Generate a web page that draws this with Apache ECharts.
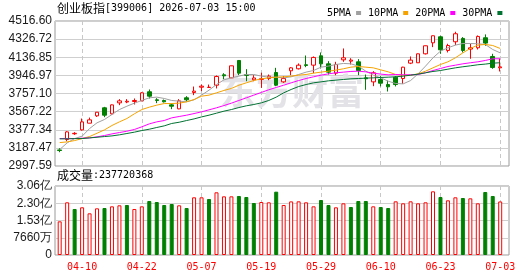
<!DOCTYPE html>
<html>
<head>
<meta charset="utf-8">
<script src="https://cdn.jsdelivr.net/npm/echarts@6/dist/echarts.min.js"></script>
<style>
    html, body {margin: 0; padding: 0; background: #fff;}
    #main {width: 530px; height: 276px;}
</style>
</head>
<body>
<div id="main"></div>
<script>
var dates = ['04-07','04-08','04-09','04-10','04-13','04-14','04-15','04-16','04-17','04-20',
    '04-21','04-22','04-23','04-24','04-27','04-28','04-29','04-30','05-06','05-07',
    '05-08','05-11','05-12','05-13','05-14','05-15','05-18','05-19','05-20','05-21',
    '05-22','05-25','05-26','05-27','05-28','05-29','06-01','06-02','06-03','06-04',
    '06-05','06-08','06-09','06-10','06-11','06-12','06-15','06-16','06-17','06-18',
    '06-22','06-23','06-24','06-25','06-26','06-29','06-30','07-01','07-02','07-03'];
var labelDates = ['04-10','04-22','05-07','05-19','05-29','06-10','06-23','07-03'];

var openP  = [3166,3275,3335,3376,3446,3523,3607,3544,3659,3668,3673,3680,3775,3691,3684,3638,3596,3712,3768,3823,
              3820,3844,3953,3921,4103,3956,3900,3905,3914,3977,3879,3995,4016,4058,4054,4152,4068,3970,4110,4096,
              4089,3921,3879,3904,3851,3928,3914,4075,4079,4173,4288,4351,4208,4299,4334,4222,4236,4341,4145,4026];
var closeP = [3160,3355,3340,3460,3481,3561,3530,3638,3680,3676,3684,3764,3729,3684,3670,3624,3680,3691,3782,3834,
              3823,3935,3942,4047,3970,3946,3920,3912,3939,3844,3914,4026,4054,4051,4135,4068,3981,4061,4131,4107,
              3998,3911,3974,3865,3827,3851,4033,4107,4173,4257,4362,4215,4260,4383,4208,4236,4355,4285,4030,4036];
var lowP   = [3142,3257,3324,3369,3446,3512,3509,3537,3635,3656,3642,3677,3705,3656,3663,3593,3593,3673,3740,3782,
              3818,3810,3907,3919,3949,3886,3886,3816,3897,3834,3869,3949,4009,4033,3970,4019,3956,3949,4089,4061,
              3949,3796,3834,3831,3778,3831,3858,4065,4079,4166,4243,4173,4187,4264,4187,4121,4218,4257,4016,3988];
var highP  = [3184,3362,3352,3495,3505,3563,3617,3642,3698,3698,3705,3771,3799,3708,3694,3652,3698,3729,3830,3851,
              3851,3946,3970,4049,4107,4012,3949,3975,3956,4026,3939,4033,4072,4155,4145,4187,4096,4089,4229,4127,
              4117,3956,3991,3939,3893,3939,4037,4145,4175,4259,4364,4362,4278,4404,4348,4278,4365,4376,4173,4121];

var ma5  = [3170,3240,3285,3310,3390,3450,3485,3537,3589,3624,3656,3684,3712,3719,3705,3684,3677,3670,3691,3740,
            3792,3851,3900,3921,3939,3956,3956,3939,3928,3928,3921,3932,3956,3981,3998,4033,4044,4061,4072,4068,
            4044,3991,3949,3921,3886,3862,3858,3893,3963,4044,4131,4201,4236,4264,4281,4281,4278,4271,4218,4183];
var ma10 = [3243,3250,3264,3285,3306,3341,3376,3422,3460,3495,3544,3589,3614,3635,3652,3652,3656,3670,3694,3729,
            3740,3764,3789,3810,3844,3869,3893,3911,3921,3928,3932,3939,3949,3956,3970,3981,3991,4002,4016,4033,
            4040,4033,4026,4005,3984,3956,3949,3949,3963,3991,4026,4061,4089,4131,4183,4229,4264,4271,4260,4229];
var ma20 = [3285,3285,3285,3289,3292,3303,3317,3334,3348,3362,3380,3408,3439,3460,3474,3502,3516,3530,3547,3565,
            3586,3607,3631,3656,3684,3712,3740,3768,3796,3820,3844,3869,3893,3914,3932,3949,3963,3974,3981,3988,
            3991,3984,3970,3960,3953,3956,3953,3953,3956,3974,3998,4019,4040,4054,4068,4079,4089,4103,4121,4121];
var ma30 = [3282,3282,3285,3285,3292,3299,3306,3313,3324,3338,3352,3369,3383,3401,3418,3443,3456,3474,3491,3512,
            3530,3551,3572,3589,3610,3628,3642,3659,3684,3719,3764,3799,3830,3851,3869,3879,3890,3897,3904,3911,
            3914,3918,3921,3925,3928,3932,3939,3949,3960,3974,3988,3998,4012,4026,4037,4047,4058,4065,4075,4079];

var volumes = [149500000,233900000,204300000,211700000,185000000,207200000,208700000,216100000,220600000,222000000,
               204300000,216100000,239800000,235300000,222000000,226500000,220600000,208700000,256100000,256100000,
               248700000,278300000,260500000,260500000,262000000,257600000,230900000,235300000,233900000,281200000,
               222000000,238000000,238300000,233900000,216100000,244200000,222000000,211700000,229400000,213100000,
               239800000,239800000,216100000,213100000,208700000,238300000,229400000,238300000,229400000,233900000,
               282700000,257600000,242800000,256100000,253100000,251600000,229400000,279800000,262000000,237720368];
var volUp = [1,1,0,1,1,1,0,1,1,0, 1,1,0,0,0,0,1,0,1,1, 0,1,1,1,0,0,0,1,1,0,
             1,1,1,1,1,0,0,1,1,0, 0,0,1,0,0,1,1,1,1,1, 1,0,1,1,0,1,1,0,0,1];

var priceTicks = ['2997.59','3187.47','3377.34','3567.22','3757.10','3946.97','4136.85','4326.72','4516.60'];
var volTicks = ['0','7660万','1.53亿','2.30亿','3.06亿'];
var priceMin = 2997.59, priceMax = 4516.60;
var volMax = 306400000;

var RED = '#ff0000', GREEN = '#008000';
var mono = '"DejaVu Sans Mono", monospace';
var cjk = '"Noto Sans CJK SC", sans-serif';

var myChart = echarts.init(document.getElementById('main'), null, {renderer: 'canvas'});

function isLabelDate(index, value) {
    return labelDates.indexOf(value) >= 0;
}

var candleData = dates.map(function (d, i) {
    return [openP[i], closeP[i], lowP[i], highP[i]];
});
var volData = volumes.map(function (v, i) {
    return {
        value: v,
        itemStyle: volUp[i]
            ? {color: '#fff', borderColor: RED, borderWidth: 1}
            : {color: GREEN, borderColor: GREEN, borderWidth: 1}
    };
});

function maSeries(name, data, color) {
    return {
        name: name, type: 'line', data: data,
        xAxisIndex: 1, yAxisIndex: 1,
        symbol: 'none', smooth: false, color: color,
        lineStyle: {width: 1, color: color},
        silent: true
    };
}

var frameAxis = {show: false, type: 'value', min: 0, max: 1};
var dashed = {show: true, interval: isLabelDate, lineStyle: {color: '#c8c8c8', type: [4, 3], width: 1}};

var option = {
    animation: false,
    backgroundColor: '#fff',
    grid: [
        {left: 55, top: 21, width: 454, height: 145, show: true, borderColor: '#9a9a9a', borderWidth: 1, backgroundColor: 'transparent', containLabel: false},
        {left: 59.7, top: 21, width: 440.5, height: 145, containLabel: false},
        {left: 55, top: 186, width: 454, height: 69, show: true, borderColor: '#9a9a9a', borderWidth: 1, backgroundColor: 'transparent', containLabel: false},
        {left: 59.7, top: 186, width: 440.5, height: 69, containLabel: false}
    ],
    xAxis: [
        Object.assign({gridIndex: 0}, frameAxis),
        {
            gridIndex: 1, type: 'category', data: dates, boundaryGap: false,
            axisLine: {show: false}, axisTick: {show: false}, axisLabel: {show: false},
            splitLine: dashed
        },
        Object.assign({gridIndex: 2}, frameAxis),
        {
            gridIndex: 3, type: 'category', data: dates, boundaryGap: false,
            axisLine: {show: false}, axisTick: {show: false},
            axisLabel: {show: true, interval: isLabelDate, color: RED, fontFamily: mono, fontSize: 10, margin: 7},
            splitLine: dashed
        }
    ],
    yAxis: [
        {
            gridIndex: 0, type: 'value', min: 0, max: 8, interval: 1,
            axisLine: {show: false}, axisTick: {show: false},
            axisLabel: {
                color: '#1a1a1a', fontFamily: 'Liberation Sans, Arial', fontSize: 12, margin: 3,
                formatter: function (v) { return priceTicks[v]; }
            },
            splitLine: {show: true, lineStyle: {color: '#cfcfcf', width: 1}}
        },
        {gridIndex: 1, type: 'value', min: priceMin, max: priceMax, show: false, splitLine: {show: false}},
        {
            gridIndex: 2, type: 'value', min: 0, max: 4, interval: 1,
            axisLine: {show: false}, axisTick: {show: false},
            axisLabel: {
                color: '#1a1a1a', fontFamily: 'Liberation Sans, Arial', fontSize: 12, margin: 3,
                formatter: function (v) { return volTicks[v]; }
            },
            splitLine: {show: true, lineStyle: {color: '#cfcfcf', width: 1}}
        },
        {gridIndex: 3, type: 'value', min: 0, max: volMax, show: false, splitLine: {show: false}}
    ],
    legend: {
        show: true, left: 322, top: 3, selectedMode: false,
        align: 'right', icon: 'rect', itemWidth: 5, itemHeight: 4, itemGap: 7,
        textStyle: {fontFamily: mono, fontSize: 10, color: '#000', padding: [0, 0, 0, 0]},
        data: ['5PMA', '10PMA', '20PMA', '30PMA']
    },
    graphic: [
        {
            type: 'text', left: 220, top: 73, z: 1, silent: true,
            style: {text: '东方财富', font: 'bold 36px "Noto Sans CJK SC"', fill: '#e3e3e7'}
        },
        {
            type: 'text', left: 57, top: 2, silent: true,
            style: {
                text: '{a|创业板指}{b|[399006] 2026-07-03 15:00}',
                rich: {
                    a: {fontFamily: cjk, fontSize: 12, fill: '#000', lineHeight: 14},
                    b: {fontFamily: mono, fontSize: 10, fill: '#000', lineHeight: 14}
                }
            }
        },
        {
            type: 'text', left: 57, top: 169, silent: true,
            style: {
                text: '{a|成交量}{b|:' + volumes[volumes.length - 1] + '}',
                rich: {
                    a: {fontFamily: cjk, fontSize: 12, fill: '#000', lineHeight: 14},
                    b: {fontFamily: mono, fontSize: 10, fill: '#000', lineHeight: 14}
                }
            }
        }
    ],
    series: [
        {
            name: 'K', type: 'candlestick', data: candleData,
            xAxisIndex: 1, yAxisIndex: 1, barWidth: 4, clip: false, silent: true,
            itemStyle: {color: '#fff', color0: GREEN, borderColor: RED, borderColor0: GREEN, borderWidth: 1}
        },
        maSeries('5PMA', ma5, '#a0a0a0'),
        maSeries('10PMA', ma10, '#f5a300'),
        maSeries('20PMA', ma20, '#ff00ff'),
        maSeries('30PMA', ma30, '#007232'),
        {
            name: 'VOL', type: 'bar', data: volData,
            xAxisIndex: 3, yAxisIndex: 3, barWidth: 4, clip: false, silent: true
        }
    ]
};

myChart.setOption(option);
</script>
</body>
</html>
